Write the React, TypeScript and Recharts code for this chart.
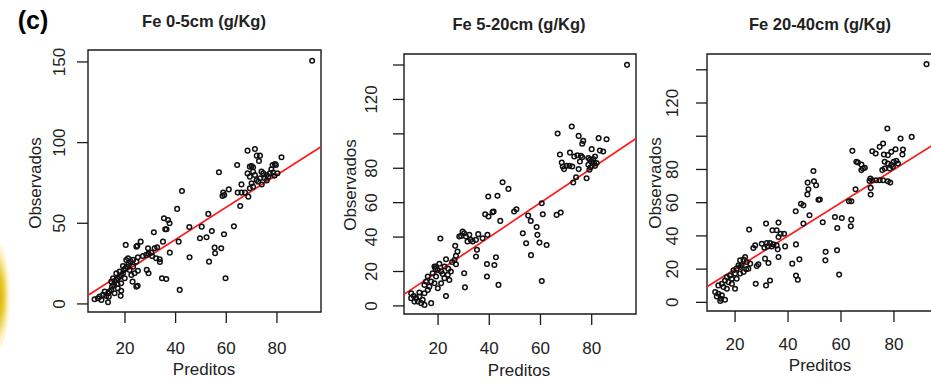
import React from 'react';
import {
  ScatterChart,
  Scatter,
  XAxis,
  YAxis,
  ReferenceLine,
  ReferenceArea,
} from 'recharts';

// observed vs predicted Fe, [predito, observado]
const fe0to5: [number, number][] = [
  [93.9, 150.7],
  [68.4, 95.0], [71.3, 96.0], [72.0, 91.9], [73.3, 91.9], [72.9, 88.6], [81.8, 90.9], [64.3, 86.1],
  [69.3, 85.1], [70.0, 85.5], [70.6, 84.7], [78.3, 86.1], [79.2, 86.7], [79.6, 86.1], [57.1, 81.6],
  [68.4, 80.9], [69.3, 78.9], [70.6, 82.0], [71.3, 79.9], [73.9, 82.0], [74.6, 80.9], [75.9, 79.9],
  [77.2, 80.9], [78.5, 81.4], [72.0, 76.8], [72.6, 75.8], [73.3, 77.9], [75.2, 77.9], [76.6, 78.9],
  [70.0, 74.8], [70.6, 72.7], [69.3, 71.7], [66.0, 74.1], [61.0, 71.0], [58.8, 69.0], [59.2, 67.5],
  [58.5, 66.9], [64.5, 69.0], [66.0, 69.0], [67.4, 69.0], [68.7, 66.5], [65.5, 60.7], [52.9, 55.8],
  [50.3, 47.9], [49.6, 40.7], [52.2, 41.3], [54.3, 45.2], [59.1, 43.2], [63.0, 48.1], [55.4, 34.9],
  [55.6, 31.4], [58.0, 34.5], [53.2, 26.2], [59.7, 15.9],
  [77.8, 83.5], [79.0, 79.5], [80.2, 81.0], [74.0, 74.0], [76.0, 76.5],
  [42.5, 70.0], [40.6, 58.9], [35.4, 53.1], [37.0, 52.0], [37.6, 50.0], [35.9, 46.3], [36.4, 46.3],
  [31.4, 44.4], [26.2, 38.6], [24.9, 36.1], [20.3, 36.6], [35.0, 38.6], [37.7, 31.8], [29.1, 34.5],
  [30.4, 31.8], [31.7, 34.5], [32.7, 35.1], [21.2, 28.3], [23.2, 27.3], [25.1, 28.9], [27.1, 29.7],
  [28.4, 30.4], [32.3, 28.3], [33.7, 27.7], [28.6, 21.1], [29.3, 19.0], [34.6, 15.9], [36.3, 15.5],
  [41.6, 8.7], [18.3, 5.0], [13.3, 1.0],
  [41.2, 38.6], [45.4, 47.7], [45.5, 28.9], [24.5, 35.5], [25.0, 11.2], [23.0, 13.8], [29.3, 31.2],
  [30.7, 29.7], [33.8, 26.0],
  [8.0, 2.9], [9.3, 3.5], [10.7, 2.5], [11.3, 5.6], [12.6, 4.9], [13.3, 6.6], [13.9, 7.6], [14.6, 8.7],
  [14.9, 10.7], [15.7, 11.8], [15.9, 13.8], [16.6, 14.9], [17.2, 15.9], [17.9, 16.9], [18.5, 17.9],
  [19.2, 19.0], [19.6, 21.0], [20.1, 22.1], [20.9, 23.1], [21.4, 24.8], [22.2, 26.2], [23.2, 23.1],
  [23.8, 19.0], [24.5, 10.7], [25.1, 20.6], [22.5, 17.9], [18.5, 12.8], [17.2, 9.7], [19.9, 15.9],
  [21.8, 21.0], [14.6, 13.8], [15.3, 15.9], [16.6, 19.0], [17.9, 20.0], [19.2, 23.5], [20.5, 27.2],
  [13.6, 4.5], [12.0, 7.6], [10.0, 4.5], [15.9, 6.6], [17.0, 12.4], [18.5, 8.2], [24.5, 26.2],
];

const fe5to20: [number, number][] = [
  [93.8, 140.1],
  [72.2, 104.3], [66.7, 100.2], [74.9, 98.8], [76.7, 95.9], [76.3, 94.2], [82.7, 97.5], [85.8, 96.9],
  [67.6, 88.0], [71.5, 89.1], [73.2, 86.8], [74.4, 87.6], [75.8, 87.2], [76.3, 86.4], [75.4, 83.9],
  [68.3, 83.3], [68.7, 81.0], [69.2, 79.5], [70.2, 81.4], [71.3, 81.4], [72.4, 81.0], [74.9, 79.5],
  [80.0, 91.1], [83.2, 90.3], [84.5, 89.7], [78.7, 85.9], [79.3, 84.9], [80.0, 83.9], [80.6, 85.3],
  [80.9, 83.0], [78.7, 82.0], [79.6, 80.6], [81.3, 81.4], [81.9, 83.0], [79.1, 79.1], [78.0, 74.2],
  [81.3, 86.8], [73.9, 74.8], [72.8, 71.7], [66.3, 52.9], [67.9, 54.3], [60.5, 59.7], [60.9, 53.3],
  [55.2, 52.5], [56.2, 49.4], [58.5, 45.9], [53.1, 42.2], [58.8, 41.3], [59.6, 36.8], [62.4, 35.4],
  [54.4, 36.4], [56.3, 29.5], [60.5, 14.5],
  [45.2, 71.9], [47.5, 68.0], [39.6, 63.6], [43.2, 64.0], [41.7, 54.9], [41.3, 54.5], [38.4, 53.3],
  [39.7, 52.0], [49.7, 54.9], [50.6, 56.2], [44.3, 49.4], [20.9, 39.2], [29.6, 43.2], [30.2, 42.2],
  [29.0, 40.7], [28.3, 40.3], [30.9, 40.3], [32.2, 41.3], [32.8, 38.4], [31.5, 37.4], [33.5, 37.4],
  [34.8, 38.4], [35.7, 41.7], [37.4, 39.3], [39.3, 41.3], [26.7, 34.9], [27.6, 31.6], [27.0, 29.1],
  [35.2, 32.6], [34.8, 28.7], [30.2, 19.0], [30.5, 10.8], [39.1, 24.4], [42.6, 28.3], [42.0, 23.8],
  [39.1, 17.1], [43.6, 12.2], [23.1, 27.1],
  [18.6, 22.9], [19.9, 20.9], [21.2, 20.0], [19.2, 17.1], [22.5, 16.1], [23.8, 18.1], [24.4, 15.1],
  [21.2, 13.2], [18.6, 13.2], [19.9, 10.3], [16.0, 17.1], [15.3, 14.2], [14.7, 12.2], [16.6, 11.2],
  [17.3, 14.2], [17.9, 19.0], [19.2, 22.9], [22.5, 22.9], [23.1, 5.8],
  [9.5, 7.4], [10.5, 5.8], [11.4, 4.5], [12.7, 5.4], [12.1, 2.5], [14.0, 3.5], [13.4, 1.6], [14.7, 0.6],
  [10.8, 2.5], [9.5, 4.5], [12.7, 7.8], [14.7, 7.4], [16.0, 9.3], [17.3, 1.6], [26.4, 26.7], [27.0, 24.2],
  [20.5, 24.5], [24.0, 21.5], [25.5, 25.5], [19.0, 21.5], [21.8, 18.5], [25.0, 20.0],
];

const fe20to40: [number, number][] = [
  [92.3, 143.4],
  [77.5, 104.7], [82.5, 98.6], [86.7, 99.6], [64.3, 91.2], [74.6, 93.6], [75.9, 95.6], [71.8, 91.0],
  [73.1, 89.6], [76.2, 89.0], [77.7, 88.6], [79.0, 90.6], [80.6, 92.2], [83.4, 92.0], [83.2, 89.0],
  [65.8, 84.6], [66.4, 84.2], [67.7, 83.0], [68.3, 80.6], [67.7, 79.6], [69.0, 81.0], [76.5, 84.6],
  [77.7, 83.6], [79.0, 82.6], [79.9, 84.6], [80.9, 85.2], [81.5, 83.6], [79.6, 81.6], [76.5, 80.6],
  [75.6, 79.6], [78.4, 80.6], [71.1, 74.5], [71.8, 73.5], [73.3, 73.5], [74.6, 73.5], [75.9, 73.5],
  [77.7, 72.9], [78.6, 72.1], [70.8, 73.1], [65.5, 68.1], [71.2, 68.9], [71.2, 64.9], [63.0, 60.9],
  [63.9, 60.9], [52.0, 61.9], [57.7, 51.4], [60.3, 50.8], [63.9, 49.8], [63.7, 45.8], [53.1, 48.2],
  [58.6, 44.8], [54.2, 30.4], [54.1, 25.3], [58.5, 31.4], [59.3, 16.7],
  [49.6, 79.1], [47.4, 72.1], [49.8, 72.9], [50.6, 70.5], [47.3, 65.0], [47.7, 68.1], [51.5, 61.8],
  [44.9, 59.4], [45.8, 58.4], [42.9, 54.8], [48.1, 52.4], [45.8, 47.4], [31.7, 47.4], [25.3, 43.8],
  [36.4, 48.0], [34.1, 43.4], [35.7, 43.4], [37.2, 41.3], [38.5, 41.3], [36.4, 39.3], [38.9, 33.7],
  [43.0, 34.9], [27.6, 34.3], [26.9, 32.7], [30.1, 35.3], [32.0, 35.7], [33.2, 35.7], [34.5, 34.9],
  [35.7, 34.3], [36.1, 31.9], [31.1, 32.9], [32.3, 33.7], [33.8, 33.7], [36.4, 27.3], [44.3, 25.9],
  [31.3, 26.3], [32.6, 23.7], [28.2, 21.9], [28.8, 22.9], [41.6, 23.3], [43.0, 16.2], [43.7, 13.6],
  [33.2, 13.2], [31.7, 10.2], [27.8, 11.2],
  [21.9, 25.3], [23.2, 25.7], [24.4, 24.3], [25.7, 23.3], [25.0, 20.3], [24.2, 19.9], [22.5, 22.3],
  [21.3, 22.3], [20.6, 20.3], [19.4, 19.3], [20.0, 17.3], [21.9, 17.3], [23.2, 18.3], [18.1, 16.2],
  [16.9, 15.2], [18.8, 14.2], [17.5, 12.2], [16.2, 13.2], [15.0, 11.2], [13.7, 10.2], [15.6, 9.2],
  [20.0, 8.2], [16.9, 8.2], [18.8, 11.2], [20.6, 14.2], [21.9, 21.3], [23.8, 27.3],
  [12.5, 6.2], [13.7, 5.2], [13.1, 3.6], [15.0, 4.2], [14.6, 2.2], [16.2, 1.6], [14.4, 0.8],
];

const xTicks = [20, 40, 60, 80];
const yTicks05 = [0, 50, 100, 150];
const yTicksDeep = [0, 20, 40, 60, 80, 100, 120, 140];
const hiddenDeep = [100, 140]; // R drops these labels, they overlap

const W = 931;
const H = 382;
const SVG_W = 960;
const AXIS = 40;
const FONT = '"Liberation Sans", Arial, Helvetica, sans-serif';

interface PanelSpec {
  title: string;
  data: [number, number][];
  box: { l: number; r: number; t: number; b: number };
  xDomain: [number, number];
  yDomain: [number, number];
  yTicks: number[];
  hideY: number[];
  yTickOff: number;
  xTickOff: number;
  obs: [number, number];
  pred: [number, number];
  titlePos: [number, number];
}

const panels: PanelSpec[] = [
  {
    title: 'Fe 0-5cm (g/Kg)',
    data: fe0to5,
    box: { l: 88, r: 321, t: 50, b: 312 },
    xDomain: [5.4, 97.4],
    yDomain: [-5, 157.4],
    yTicks: yTicks05,
    hideY: [],
    yTickOff: 28,
    xTickOff: 36,
    obs: [35, 183],
    pred: [204, 369],
    titlePos: [204, 21],
  },
  {
    title: 'Fe 5-20cm (g/Kg)',
    data: fe5to20,
    box: { l: 404, r: 636, t: 54, b: 314 },
    xDomain: [6.7, 97.3],
    yDomain: [-4.7, 146.4],
    yTicks: yTicksDeep,
    hideY: hiddenDeep,
    yTickOff: 32,
    xTickOff: 34,
    obs: [350, 185],
    pred: [519, 370],
    titlePos: [519, 24],
  },
  {
    title: 'Fe 20-40cm (g/Kg)',
    data: fe20to40,
    box: { l: 707, r: 935, t: 54, b: 311 },
    xDomain: [9.4, 95.5],
    yDomain: [-5.2, 149.5],
    yTicks: yTicksDeep,
    hideY: hiddenDeep,
    yTickOff: 34,
    xTickOff: 33,
    obs: [655, 183],
    pred: [820, 365],
    titlePos: [820, 24],
  },
];

const Dot = (p: any) => (
  <circle cx={p.cx} cy={p.cy} r={2.3} fill="none" stroke="#111" strokeWidth={1.5} />
);

function Panel({ spec }: { spec: PanelSpec }) {
  const { box, xDomain, yDomain } = spec;
  const pts = spec.data.map(([x, y]) => ({ x, y }));
  const xLabelY = box.b + spec.xTickOff;
  const yLabelX = box.l - spec.yTickOff;
  return (
    <div style={{ position: 'absolute', left: 0, top: 0 }}>
      <ScatterChart
        width={SVG_W}
        height={H}
        margin={{ top: box.t, right: SVG_W - box.r, bottom: H - box.b - AXIS, left: box.l - AXIS }}
      >
        <XAxis
          type="number"
          dataKey="x"
          domain={xDomain}
          ticks={xTicks}
          interval={0}
          allowDataOverflow
          height={AXIS}
          axisLine={false}
          tickSize={11}
          tickLine={{ stroke: '#1a1a1a', strokeWidth: 1.3 }}
          tick={(t: any) => (
            <text x={t.x} y={xLabelY} textAnchor="middle" dominantBaseline="central" fontSize={17} fill="#222">
              {t.payload.value}
            </text>
          )}
        />
        <YAxis
          type="number"
          dataKey="y"
          domain={yDomain}
          ticks={spec.yTicks}
          interval={0}
          allowDataOverflow
          width={AXIS}
          axisLine={false}
          tickSize={11}
          tickLine={{ stroke: '#1a1a1a', strokeWidth: 1.3 }}
          tick={(t: any) =>
            spec.hideY.includes(t.payload.value) ? (
              <g />
            ) : (
              <text
                x={yLabelX}
                y={t.y}
                transform={`rotate(-90 ${yLabelX} ${t.y})`}
                textAnchor="middle"
                dominantBaseline="central"
                fontSize={17}
                fill="#222"
              >
                {t.payload.value}
              </text>
            )
          }
        />
        <ReferenceArea
          x1={xDomain[0]}
          x2={xDomain[1]}
          y1={yDomain[0]}
          y2={yDomain[1]}
          fill="none"
          stroke="#1a1a1a"
          strokeWidth={1.4}
          ifOverflow="visible"
        />
        <Scatter data={pts} shape={Dot} isAnimationActive={false} />
        <ReferenceLine
          segment={[
            { x: xDomain[0], y: xDomain[0] },
            { x: xDomain[1], y: xDomain[1] },
          ]}
          stroke="#ff1a1a"
          strokeWidth={1.7}
          ifOverflow="visible"
        />
      </ScatterChart>
      <div style={{ ...centered(spec.titlePos[0], spec.titlePos[1]), fontWeight: 'bold', fontSize: 16.5 }}>
        {spec.title}
      </div>
      <div style={{ ...centered(spec.obs[0], spec.obs[1]), fontSize: 17, transform: 'translate(-50%, -50%) rotate(-90deg)' }}>
        Observados
      </div>
      <div style={{ ...centered(spec.pred[0], spec.pred[1]), fontSize: 17 }}>Preditos</div>
    </div>
  );
}

function centered(x: number, y: number): React.CSSProperties {
  return {
    position: 'absolute',
    left: x,
    top: y,
    transform: 'translate(-50%, -50%)',
    whiteSpace: 'nowrap',
    lineHeight: 1,
    color: '#222',
  };
}

export default function App() {
  return (
    <div
      style={{
        position: 'absolute',
        left: 0,
        top: 0,
        width: W,
        height: H,
        overflow: 'hidden',
        background: '#fff',
        fontFamily: FONT,
      }}
    >
      {/* yellow smudge at the left edge of the original figure */}
      <div
        style={{
          position: 'absolute',
          left: -14,
          top: 244,
          width: 24,
          height: 104,
          borderRadius: '50%',
          background:
            'radial-gradient(ellipse at center, #d8b000 0%, #e6c62a 30%, rgba(250,235,150,0.45) 62%, rgba(255,255,255,0) 100%)',
        }}
      />
      {panels.map((p) => (
        <Panel key={p.title} spec={p} />
      ))}
      <div style={{ ...centered(33, 20), fontWeight: 'bold', fontSize: 25, color: '#000' }}>(c)</div>
    </div>
  );
}
